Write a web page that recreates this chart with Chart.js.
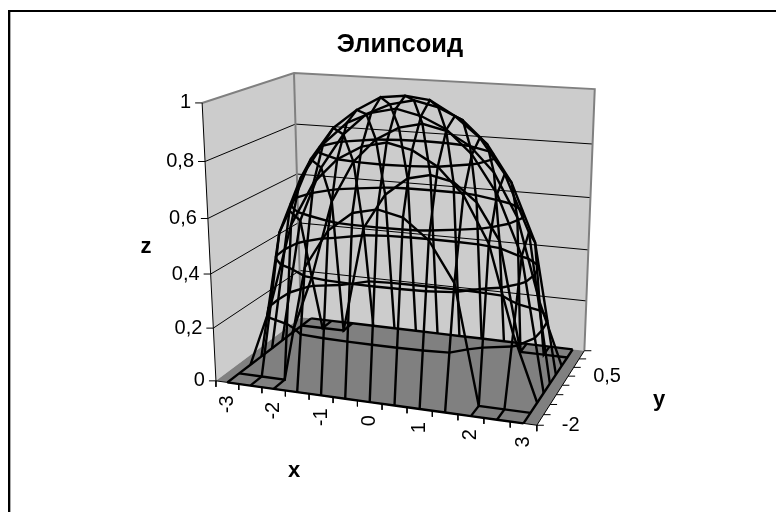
<!DOCTYPE html>
<html><head><meta charset="utf-8">
<style>html,body{margin:0;padding:0;background:#fff}#w{position:absolute;left:0;top:0;width:776px;height:512px}</style>
<script src="https://cdn.jsdelivr.net/npm/chart.js@4"></script></head>
<body><div id="w"><canvas id="c" width="776" height="512"></canvas></div>
<script>
// ---- data ----
const xCategories = [-3,-2.5,-2,-1.5,-1,-0.5,0,0.5,1,1.5,2,2.5,3];
const yCategories = [-2,-1.5,-1,-0.5,0,0.5,1,1.5,2];
const zTickValues = [0,0.2,0.4,0.6,0.8,1];
const zTickLabels = ['0','0,2','0,4','0,6','0,8','1'];
const xTickLabels = ['-3','-2','-1','0','1','2','3'];
const yTickLabels = ['-2','0,5'];
const zAtYm20 = [0,0,0,0,0,0,0,0,0,0,0,0,0];
const zAtYm15 = [0,0,0,.43,.57,.64,.66,.64,.57,.43,0,0,0];
const zAtYm10 = [0,.24,.55,.71,.80,.85,.87,.85,.80,.71,.55,.24,0];
const zAtYm05 = [0,.49,.70,.83,.91,.95,.97,.95,.91,.83,.70,.49,0];
const zAtY00  = [0,.55,.75,.87,.94,.99,1,.99,.94,.87,.75,.55,0];
const zAtYp05 = [0,.49,.70,.83,.91,.95,.97,.95,.91,.83,.70,.49,0];
const zAtYp10 = [0,.24,.55,.71,.80,.85,.87,.85,.80,.71,.55,.24,0];
const zAtYp15 = [0,0,0,.43,.57,.64,.66,.64,.57,.43,0,0,0];
const zAtYp20 = [0,0,0,0,0,0,0,0,0,0,0,0,0];
const zRows = [zAtYm20,zAtYm15,zAtYm10,zAtYm05,zAtY00,zAtYp05,zAtYp10,zAtYp15,zAtYp20];
const titleText = 'Элипсоид';

// ---- view: box corners (u along x, v along y, w along z) seen on the page ----
const viewPairs = [
 [[0,0,0],[215,381]],[[1,0,0],[537,425]],[[1,1,0],[584,351]],[[0,1,0],[302,317]],
 [[0,0,1],[203,103]],[[0,1,1],[293,73]],[[1,1,1],[595,89]]
];
function solveCamera(pairs){
  const n=11,A=Array.from({length:n},()=>new Array(n+1).fill(0));
  const add=(r,b)=>{for(let i=0;i<n;i++){for(let j=0;j<n;j++)A[i][j]+=r[i]*r[j];A[i][n]+=r[i]*b;}};
  for(const [[u,v,w],[sx,sy]] of pairs){
    add([u,v,w,1,0,0,0,0,-sx*u,-sx*v,-sx*w],sx);
    add([0,0,0,0,u,v,w,1,-sy*u,-sy*v,-sy*w],sy);
  }
  for(let i=0;i<n;i++){
    let p=i;for(let k=i+1;k<n;k++)if(Math.abs(A[k][i])>Math.abs(A[p][i]))p=k;
    [A[i],A[p]]=[A[p],A[i]];
    for(let k=0;k<n;k++)if(k!==i){const f=A[k][i]/A[i][i];for(let j=i;j<=n;j++)A[k][j]-=f*A[i][j];}
  }
  return A.map((r,i)=>r[n]/r[i]);
}
const P=solveCamera(viewPairs);
function proj(u,v,w){
  const d=P[8]*u+P[9]*v+P[10]*w+1;
  return {x:(P[0]*u+P[1]*v+P[2]*w+P[3])/d,y:(P[4]*u+P[5]*v+P[6]*w+P[7])/d};
}
const nx=xCategories.length,ny=yCategories.length;
const U=i=>(i+0.5)/nx, V=j=>j/(ny-1);
const off=(p,dx,dy)=>({x:p.x+dx,y:p.y+dy});
const ds=[];
function line(data,color,width,order,extra){ds.push(Object.assign({type:'scatter',showLine:true,data,borderColor:color,borderWidth:width,pointRadius:0,tension:0,order,fill:false,borderJoinStyle:'miter',parsing:false,normalized:true},extra||{}));}
function poly(pts,fillc,order){line(pts.concat([pts[0]]),'rgba(0,0,0,0)',0,order,{fill:'shape',backgroundColor:fillc});}
// walls + floor
poly([proj(0,0,0),proj(0,1,0),proj(0,1,1),proj(0,0,1)],'#cccccc',50);
poly([proj(0,1,0),proj(1,1,0),proj(1,1,1),proj(0,1,1)],'#cccccc',50);
poly([proj(0,0,0),proj(1,0,0),proj(1,1,0),proj(0,1,0)],'#808080',49);
// gridlines
zTickValues.slice(1,-1).forEach(z=>line([proj(0,0,z),proj(0,1,z),proj(1,1,z)],'#000',1,40));
// wall edges
line([proj(0,0,1),proj(0,1,1),proj(1,1,1),proj(1,1,0)],'#808080',2,39);
line([proj(0,1,0),proj(0,1,1)],'#808080',2,39);
// axes and ticks
line([proj(0,0,0),proj(0,0,1)],'#000',1,30);
line([proj(0,0,0),proj(1,0,0),proj(1,1,0)],'#000',1,30);
zTickValues.forEach(z=>{const p=proj(0,0,z);line([p,off(p,-7,0)],'#000',1,30);});
for(let i=0;i<=nx;i++){const p=proj(i/nx,0,0);line([p,off(p,0,6)],'#000',1,30);}
for(let j=0;j<ny;j++){const p=proj(1,V(j),0);line([p,off(p,7,0)],'#000',1,30);}
// wire surface
const wireW=2.4;
zRows.forEach((row,j)=>line(row.map((z,i)=>proj(U(i),V(j),z)),'#000',wireW,10));
xCategories.forEach((_,i)=>line(zRows.map((row,j)=>proj(U(i),V(j),row[i])),'#000',wireW,10));
// band boundaries on the surface, one at each inner z tick
zTickValues.slice(1,-1).forEach(level=>{
  for(let j=0;j<ny-1;j++)for(let i=0;i<nx-1;i++){
    const c=[[i,j],[i+1,j],[i+1,j+1],[i,j+1]];
    const hits=[];
    for(let k=0;k<4;k++){
      const [a,b]=c[k],[d,e]=c[(k+1)%4];
      const za=zRows[b][a],zb=zRows[e][d];
      if((za<level)!==(zb<level)){
        const t=(level-za)/(zb-za);
        hits.push(proj(U(a+t*(d-a)),V(b+t*(e-b)),level));
      }
    }
    for(let k=0;k+1<hits.length;k+=2)line([hits[k],hits[k+1]],'#000',wireW,10);
  }
});

const textPlugin={id:'texts',afterDatasetsDraw(ch){
  const c=ch.ctx,sx=ch.scales.x,sy=ch.scales.y;
  const px=p=>[sx.getPixelForValue(p.x),sy.getPixelForValue(p.y)];
  c.save();c.fillStyle='#000';
  c.font='20px "Liberation Sans"';c.textBaseline='middle';
  c.textAlign='right';
  zTickValues.forEach((z,k)=>{const [a,b]=px(proj(0,0,z));c.fillText(zTickLabels[k],a-11,b);});
  c.textAlign='left';
  yTickLabels.forEach((t,k)=>{const [a,b]=px(proj(1,V(k*5),0));c.fillText(t,a+25,b);});
  xTickLabels.forEach((t,k)=>{const [a,b]=px(proj(U(k*2),0,0));c.save();c.translate(a,b+13);c.rotate(-Math.PI/2);c.textAlign='right';c.fillText(t,0,0);c.restore();});
  c.textAlign='center';
  c.font='bold 25.5px "Liberation Sans"';
  c.fillText(titleText,400,45);
  c.font='bold 22px "Liberation Sans"';
  c.fillText('z',146,247);c.fillText('x',294,471);c.fillText('y',659,400);
  c.restore();
}};
const frame={id:'frame',beforeDraw(ch){const c=ch.ctx;c.save();c.fillStyle='#fff';c.fillRect(0,0,776,512);c.fillStyle='#000';c.fillRect(8,10,768,2);c.fillRect(8,10,2,502);c.fillStyle='#aaa';c.fillRect(10,12,1,500);c.restore();}};
new Chart(document.getElementById('c'),{type:'scatter',data:{datasets:ds},plugins:[frame,textPlugin],options:{
  responsive:false,animation:false,layout:{padding:0},
  plugins:{legend:{display:false},title:{display:false},tooltip:{enabled:false}},
  scales:{x:{type:'linear',min:0,max:776,display:false},y:{type:'linear',min:0,max:512,reverse:true,display:false}}
}});
</script></body></html>
